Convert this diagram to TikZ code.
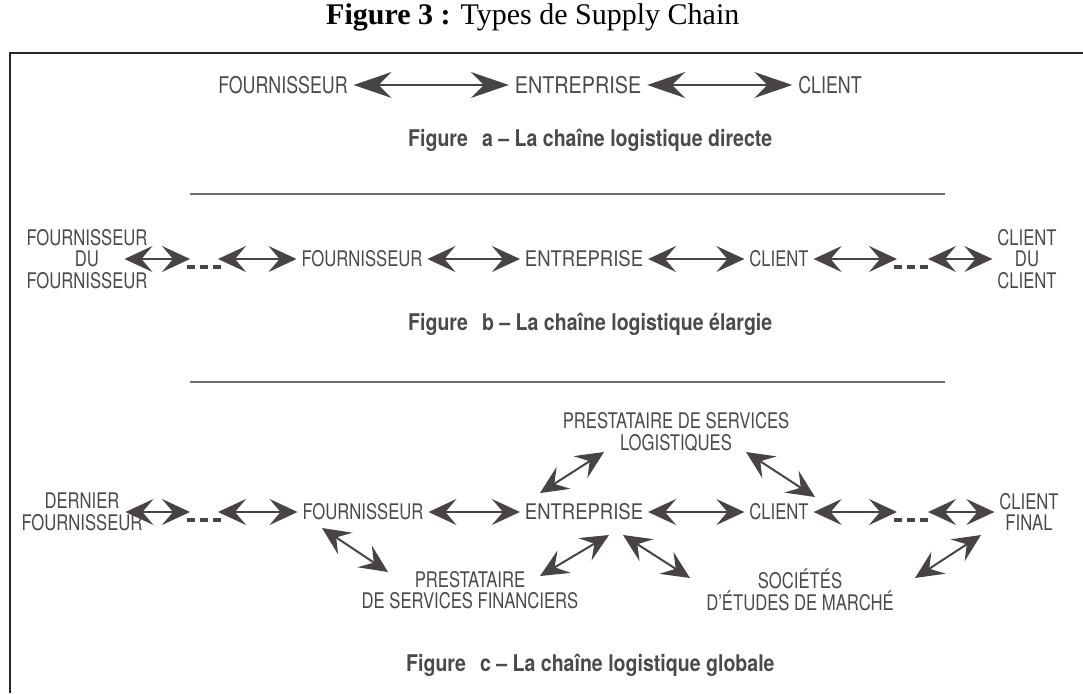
\documentclass[tikz,border=0pt]{standalone}
\usepackage{fontspec}
\setmainfont{Liberation Serif}
\newfontfamily\labelfont[FakeStretch=0.775]{TeX Gyre Heros}
\newfontfamily\widelabelfont[FakeStretch=0.86]{TeX Gyre Heros}
\newfontfamily\captionfont[FakeStretch=0.85]{TeX Gyre Heros}
\usetikzlibrary{arrows.meta}

\definecolor{ink}{HTML}{484445}
\definecolor{txt}{HTML}{4B494A}
\definecolor{framecol}{HTML}{262626}
\definecolor{sepcol}{HTML}{6E6E6E}

\tikzset{
  lbl/.style={font=\labelfont\fontsize{21.5}{21.5}\selectfont, text=txt,
    inner sep=0pt, outer sep=5pt, align=center},
  widelbl/.style={lbl, font=\widelabelfont\fontsize{21.5}{21.5}\selectfont},
  lbla/.style={lbl, font=\labelfont\fontsize{23}{23}\selectfont, outer sep=6pt},
  widelbla/.style={lbla, font=\widelabelfont\fontsize{23}{23}\selectfont},
  figcap/.style={font=\captionfont\bfseries\fontsize{23}{23}\selectfont,
    text=txt, inner sep=0pt, anchor=west},
  titlestyle/.style={font=\fontsize{30}{30}\selectfont, text=black,
    inner sep=0pt, anchor=base west},
  longtip/.tip={Stealth[length=38pt,width=26pt,inset=13pt]},
  shorttip/.tip={Stealth[length=28pt,width=26pt,inset=11pt]},
  longarr/.style={draw=ink, fill=ink, line width=2pt, longtip-longtip},
  shortarr/.style={draw=ink, fill=ink, line width=2pt, shorttip-shorttip},
  dots/.style={draw=ink, line width=4pt, dash pattern=on 8pt off 5pt},
  frameline/.style={draw=framecol, line width=2.2pt},
  sepline/.style={draw=sepcol, line width=2pt},
}

\begin{document}
\begin{tikzpicture}[x=1pt,y=-1pt]
\useasboundingbox (0,0) rectangle (1083,693);

% title and frame
\node[titlestyle] (title) at (326,25) {\textbf{Figure 3 :} Types de Supply Chain};
\draw[frameline] (10,693) -- (10,53) -- (1083,53);

% a) direct chain
\node[lbla] (a1) at (283,85) {FOURNISSEUR};
\node[widelbla] (a2) at (578,85) {ENTREPRISE};
\node[lbla] (a3) at (830,85) {CLIENT};
\draw[longarr] (a1) -- (a2);
\draw[longarr] (a2) -- (a3);
\node[figcap] (capa) at (408,140) {Figure\hspace{14pt}a – La chaîne logistique directe};

\draw[sepline] (190,194) -- (945,194);

% b) extended chain
\node[lbl] (bL) at (87,259) {FOURNISSEUR\\DU\\FOURNISSEUR};
\coordinate (b1) at (190,259);
\coordinate (b2) at (218,259);
\node[lbl] (bF) at (362,259) {FOURNISSEUR};
\node[widelbl] (bE) at (584,259) {ENTREPRISE};
\node[lbl] (bC) at (779,259) {CLIENT};
\coordinate (b3) at (897,259);
\coordinate (b4) at (928,259);
\node[lbl] (bR) at (1027,259) {CLIENT\\DU\\CLIENT};
\draw[shortarr] ([xshift=-28pt]bL.east) -- (b1);
\draw[dots] ([shift={(-3,8)}]b1) -- ([shift={(4,8)}]b2);
\draw[shortarr] (b2) -- (bF);
\draw[shortarr] (bF) -- (bE);
\draw[shortarr] (bE) -- (bC);
\draw[shortarr] (bC) -- (b3);
\draw[dots] ([shift={(-3,8)}]b3) -- ([shift={(4,8)}]b4);
\draw[shortarr] (b4) -- (bR.west);
\node[figcap] (capb) at (408,324) {Figure\hspace{14pt}b – La chaîne logistique élargie};

\draw[sepline] (190,382) -- (945,382);

% c) global chain
\node[lbl] (cL) at (82,512) {DERNIER\\FOURNISSEUR};
\coordinate (c1) at (190,512);
\coordinate (c2) at (218,512);
\node[lbl] (cF) at (363,512) {FOURNISSEUR};
\node[widelbl] (cE) at (584,512) {ENTREPRISE};
\node[lbl] (cC) at (779,512) {CLIENT};
\coordinate (c3) at (897,512);
\coordinate (c4) at (928,512);
\node[lbl] (cR) at (1029,512) {CLIENT\\FINAL};
\node[lbl] (pl) at (676,432) {PRESTATAIRE DE SERVICES\\LOGISTIQUES};
\node[lbl] (pf) at (470,590) {PRESTATAIRE\\DE SERVICES FINANCIERS};
\node[lbl] (soc) at (800,590) {SOCIÉTÉS\\D’ÉTUDES DE MARCHÉ};

\draw[shortarr] ([xshift=-22pt]cL.east) -- (c1);
\draw[dots] ([shift={(-3,8)}]c1) -- ([shift={(4,8)}]c2);
\draw[shortarr] (c2) -- (cF);
\draw[shortarr] (cF) -- (cE);
\draw[shortarr] (cE) -- (cC);
\draw[shortarr] (cC) -- (c3);
\draw[dots] ([shift={(-3,8)}]c3) -- ([shift={(4,8)}]c4);
\draw[shortarr] (c4) -- (cR.west);

\draw[shortarr] ([shift={(-41,16)}]cF.center) -- ([shift={(-82,-18)}]pf.center);
\draw[shortarr] ([shift={(70,-14)}]pf.center) -- ([shift={(25,23)}]cE.center);
\draw[shortarr] ([shift={(39,23)}]cE.center) -- ([shift={(-110,-12)}]soc.center);
\draw[shortarr] ([shift={(115,-12)}]soc.center) -- ([shift={(-48,23)}]cR.center);
\draw[shortarr] ([shift={(-44,-19)}]cE.center) -- ([shift={(-72,20)}]pl.center);
\draw[shortarr] ([shift={(70,20)}]pl.center) -- ([shift={(36,-15)}]cC.center);

\node[figcap] (capc) at (406,665) {Figure\hspace{14pt}c – La chaîne logistique globale};
\end{tikzpicture}
\end{document}
